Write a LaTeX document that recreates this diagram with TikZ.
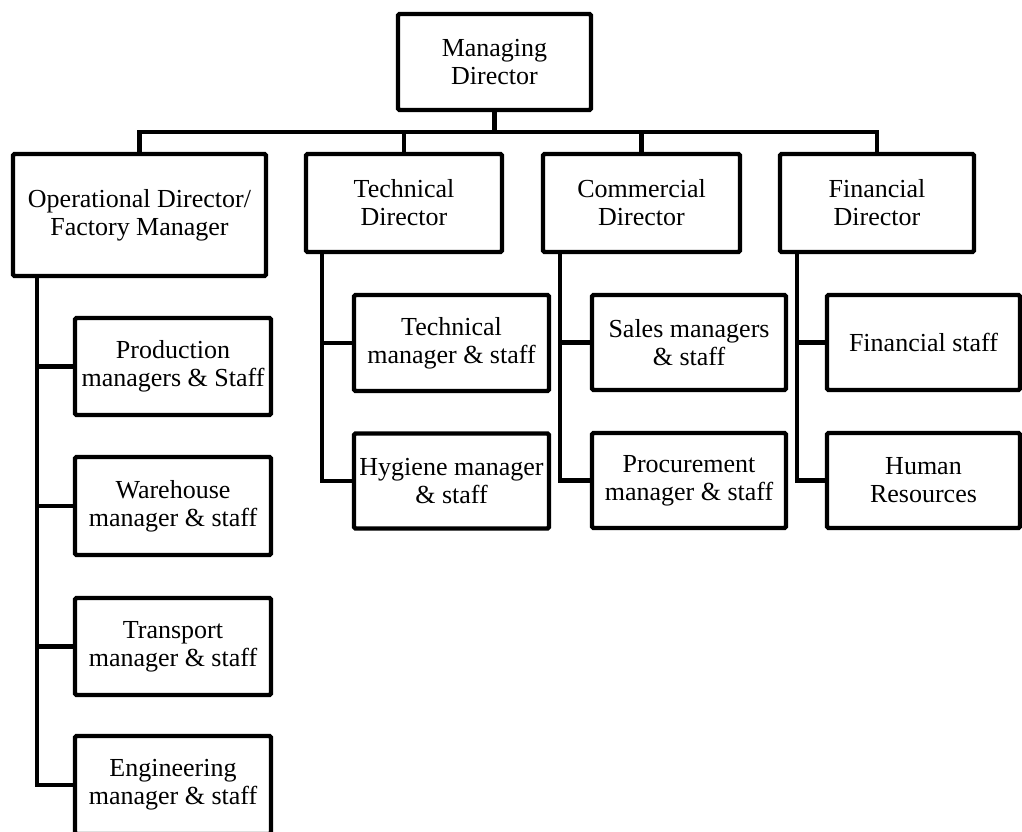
\documentclass[tikz,border=0pt]{standalone}
\usepackage{fontspec}
\setmainfont{Liberation Serif}
\begin{document}
\begin{tikzpicture}[x=1pt,y=1pt,
  box/.style={draw=black, line width=4.4pt, fill=white, rounded corners=1.5pt, inner sep=0pt,
    align=center, font=\fontsize{26}{28}\selectfont, text=black},
  wire/.style={draw=black, line width=4.2pt, line join=miter}]
\useasboundingbox (0,0) rectangle (1022,-832);
\clip (0,0) rectangle (1022,-832);
\fill[white] (0,0) rectangle (1022,-832);
% top
\node[box, minimum width=193pt, minimum height=96pt] (md) at (494.5,-62) {Managing\\Director};
% directors
\node[box, minimum width=253pt, minimum height=122pt] (op) at (139.5,-215) {Operational Director/\\Factory Manager};
\node[box, minimum width=196pt, minimum height=98pt] (tech) at (404,-203) {Technical\\Director};
\node[box, minimum width=197pt, minimum height=98pt] (comm) at (641.5,-203) {Commercial\\Director};
\node[box, minimum width=194pt, minimum height=98pt] (fin) at (877,-203) {Financial\\Director};
% operational children
\node[box, minimum width=196pt, minimum height=97pt] (prod) at (173,-366.5) {Production\\managers \& Staff};
\node[box, minimum width=196pt, minimum height=98pt] (ware) at (173,-506) {Warehouse\\manager \& staff};
\node[box, minimum width=196pt, minimum height=97pt] (trans) at (173,-646.5) {Transport\\manager \& staff};
\node[box, minimum width=196pt, minimum height=98pt] (eng) at (173,-785) {Engineering\\manager \& staff};
% technical children
\node[box, minimum width=195pt, minimum height=96pt] (tman) at (451.5,-343) {Technical\\manager \& staff};
\node[box, minimum width=195pt, minimum height=95pt] (hyg) at (451.5,-481) {Hygiene manager\\\& staff};
% commercial children
\node[box, minimum width=194pt, minimum height=95pt] (sales) at (689,-342.5) {Sales managers\\\& staff};
\node[box, minimum width=194pt, minimum height=95pt] (proc) at (689,-480.5) {Procurement\\manager \& staff};
% financial children
\node[box, minimum width=193pt, minimum height=95pt] (fstaff) at (923.5,-342.5) {Financial staff};
\node[box, minimum width=193pt, minimum height=95pt] (hr) at (923.5,-480.5) {Human\\Resources};
% bus
\coordinate (bus) at (0,-132);
\draw[wire] (md.south) -- (md.south |- bus);
\draw[wire] (op.north) -- (op.north |- bus) -- (fin.north |- bus) -- (fin.north);
\draw[wire] (tech.north) -- (tech.north |- bus);
\draw[wire] (comm.north) -- (comm.north |- bus);
% operational spine
\draw[wire] ([xshift=26pt]op.south west) |- (eng.west);
\draw[wire] ([xshift=26pt]op.south west) |- (prod.west);
\draw[wire] ([xshift=26pt]op.south west) |- (ware.west);
\draw[wire] ([xshift=26pt]op.south west) |- (trans.west);
% technical spine
\draw[wire] ([xshift=18pt]tech.south west) |- (hyg.west);
\draw[wire] ([xshift=18pt]tech.south west) |- (tman.west);
% commercial spine
\draw[wire] ([xshift=19pt]comm.south west) |- (proc.west);
\draw[wire] ([xshift=19pt]comm.south west) |- (sales.west);
% financial spine
\draw[wire] ([xshift=19pt]fin.south west) |- (hr.west);
\draw[wire] ([xshift=19pt]fin.south west) |- (fstaff.west);
\end{tikzpicture}
\end{document}
